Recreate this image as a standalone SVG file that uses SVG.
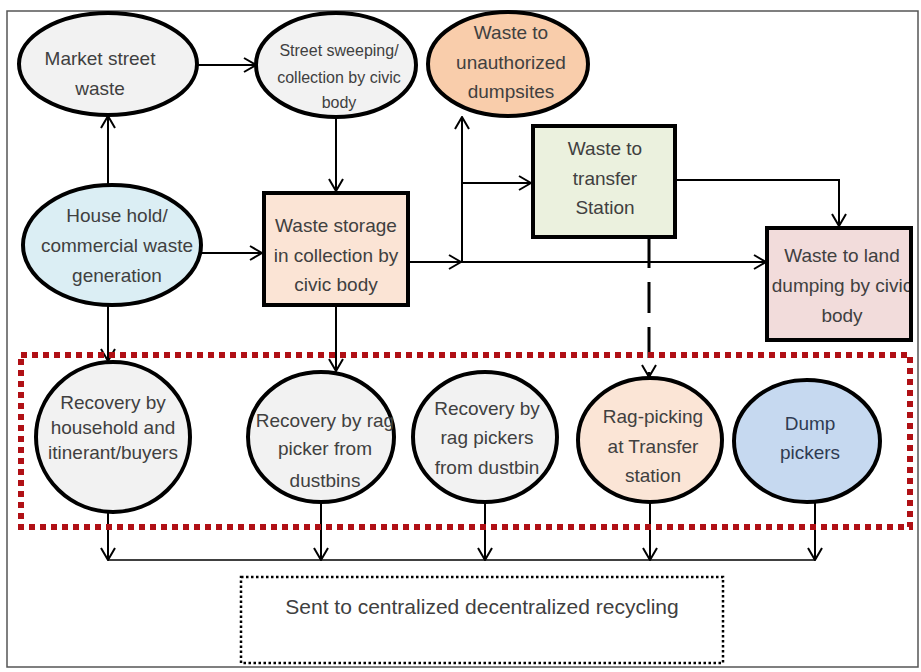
<svg xmlns="http://www.w3.org/2000/svg" width="921" height="672" viewBox="0 0 921 672">
<style>
.node{stroke:#000;stroke-width:4}
.t{font-family:"Liberation Sans",Arial,sans-serif;font-size:19px;fill:#404040;text-anchor:middle}
.s{font-size:16px}
.c{fill:none;stroke:#000;stroke-width:2}
</style>
<defs>
<marker id="ah" viewBox="0 0 14 16" markerWidth="14" markerHeight="16" refX="13" refY="8" orient="auto" markerUnits="userSpaceOnUse">
<path d="M1,1 L13,8 L1,15" fill="none" stroke="#000" stroke-width="2"/>
</marker>
<clipPath id="landclip"><rect x="767" y="227" width="145" height="113"/></clipPath>
</defs>
<rect x="7" y="11" width="911" height="656" fill="#fff" stroke="#555" stroke-width="1.5"/>

<g id="connectors">
<line class="c" x1="197" y1="65" x2="256" y2="65" marker-end="url(#ah)"/>
<line class="c" x1="108" y1="185" x2="108" y2="116" marker-end="url(#ah)"/>
<line class="c" x1="336" y1="117" x2="336" y2="191" marker-end="url(#ah)"/>
<line class="c" x1="202" y1="253" x2="262" y2="253" marker-end="url(#ah)"/>
<line class="c" x1="408" y1="262" x2="461" y2="262" marker-end="url(#ah)"/>
<line class="c" x1="461" y1="262" x2="766" y2="262" marker-end="url(#ah)"/>
<line class="c" x1="462" y1="262" x2="462" y2="117" marker-end="url(#ah)"/>
<line class="c" x1="462" y1="183" x2="531" y2="183" marker-end="url(#ah)"/>
<polyline class="c" points="675,180 839,180 839,226" marker-end="url(#ah)"/>
<line class="c" x1="649" y1="237" x2="649" y2="377" style="stroke-width:3;stroke-dasharray:31 14" marker-end="url(#ah)"/>
<line class="c" x1="108" y1="305" x2="108" y2="361" marker-end="url(#ah)"/>
<line class="c" x1="336" y1="305" x2="336" y2="371" marker-end="url(#ah)"/>
<line class="c" x1="108" y1="512" x2="108" y2="560" marker-end="url(#ah)"/>
<line class="c" x1="321" y1="502" x2="321" y2="560" marker-end="url(#ah)"/>
<line class="c" x1="485" y1="502" x2="485" y2="560" marker-end="url(#ah)"/>
<line class="c" x1="650" y1="502" x2="650" y2="560" marker-end="url(#ah)"/>
<line class="c" x1="815" y1="502" x2="815" y2="560" marker-end="url(#ah)"/>
<line class="c" x1="108" y1="560" x2="815" y2="560" style="stroke-width:1.5"/>
</g>

<rect id="recovery-zone" x="21" y="355" width="889" height="172" fill="none" stroke="#b01015" stroke-width="6" stroke-dasharray="6 5"/>

<g id="market">
<ellipse class="node" cx="108" cy="64" rx="89" ry="51" fill="#f2f2f2"/>
<text class="t" x="100" y="65">Market street</text>
<text class="t" x="100" y="95">waste</text>
</g>
<g id="sweeping">
<ellipse class="node" cx="336" cy="65" rx="80" ry="52" fill="#f2f2f2"/>
<text class="t s" x="339" y="56">Street sweeping/</text>
<text class="t s" x="339" y="83">collection by civic</text>
<text class="t s" x="339" y="108">body</text>
</g>
<g id="unauthorized">
<ellipse class="node" cx="508" cy="64" rx="80" ry="52" fill="#f9cdab"/>
<text class="t" x="511" y="39">Waste to</text>
<text class="t" x="511" y="69">unauthorized</text>
<text class="t" x="511" y="98">dumpsites</text>
</g>
<g id="household">
<ellipse class="node" cx="112" cy="245" rx="89" ry="60" fill="#dbeef4"/>
<text class="t" x="117" y="222">House hold/</text>
<text class="t" x="117" y="252">commercial waste</text>
<text class="t" x="117" y="282">generation</text>
</g>
<g id="storage">
<rect class="node" x="264" y="193" width="144" height="112" fill="#fbe4d5"/>
<text class="t" x="336" y="232">Waste storage</text>
<text class="t" x="336" y="262">in collection by</text>
<text class="t" x="336" y="291">civic body</text>
</g>
<g id="transfer">
<rect class="node" x="533" y="126" width="142" height="111" fill="#ebf1de"/>
<text class="t" x="605" y="155">Waste to</text>
<text class="t" x="605" y="185">transfer</text>
<text class="t" x="605" y="214">Station</text>
</g>
<g id="landdump">
<rect x="767" y="228" width="144" height="112" fill="#f2dcdb"/>
<g clip-path="url(#landclip)">
<text class="t" x="842" y="262">Waste to land</text>
<text class="t" x="842" y="292">dumping by civic</text>
<text class="t" x="842" y="322">body</text>
</g>
<rect x="767" y="228" width="144" height="112" fill="none" stroke="#000" stroke-width="4"/>
</g>

<g id="rec-household">
<ellipse class="node" cx="113" cy="437" rx="77" ry="75" fill="#f2f2f2"/>
<text class="t" x="113" y="409">Recovery by</text>
<text class="t" x="113" y="434">household and</text>
<text class="t" x="113" y="459">itinerant/buyers</text>
</g>
<g id="rec-ragpicker">
<ellipse class="node" cx="321" cy="437" rx="73" ry="65" fill="#f2f2f2"/>
<text class="t" x="325" y="427">Recovery by rag</text>
<text class="t" x="325" y="455">picker from</text>
<text class="t" x="325" y="487">dustbins</text>
</g>
<g id="rec-ragpickers">
<ellipse class="node" cx="485" cy="437" rx="72" ry="65" fill="#f2f2f2"/>
<text class="t" x="487" y="415">Recovery by</text>
<text class="t" x="487" y="444">rag pickers</text>
<text class="t" x="487" y="474">from dustbin</text>
</g>
<g id="ragpicking">
<ellipse class="node" cx="650" cy="440" rx="72" ry="62" fill="#fbe5d6"/>
<text class="t" x="653" y="423">Rag-picking</text>
<text class="t" x="653" y="453">at Transfer</text>
<text class="t" x="653" y="482">station</text>
</g>
<g id="dump">
<ellipse class="node" cx="807" cy="441" rx="73" ry="61" fill="#c6d9f0"/>
<text class="t" x="810" y="430" style="fill:#2f3b52">Dump</text>
<text class="t" x="810" y="459" style="fill:#2f3b52">pickers</text>
</g>

<g id="recycling">
<rect x="241" y="577" width="482" height="86" fill="none" stroke="#000" stroke-width="2.5" stroke-dasharray="2.5 2.5"/>
<text class="t" x="482" y="614" style="font-size:21px">Sent to centralized decentralized recycling</text>
</g>
</svg>
